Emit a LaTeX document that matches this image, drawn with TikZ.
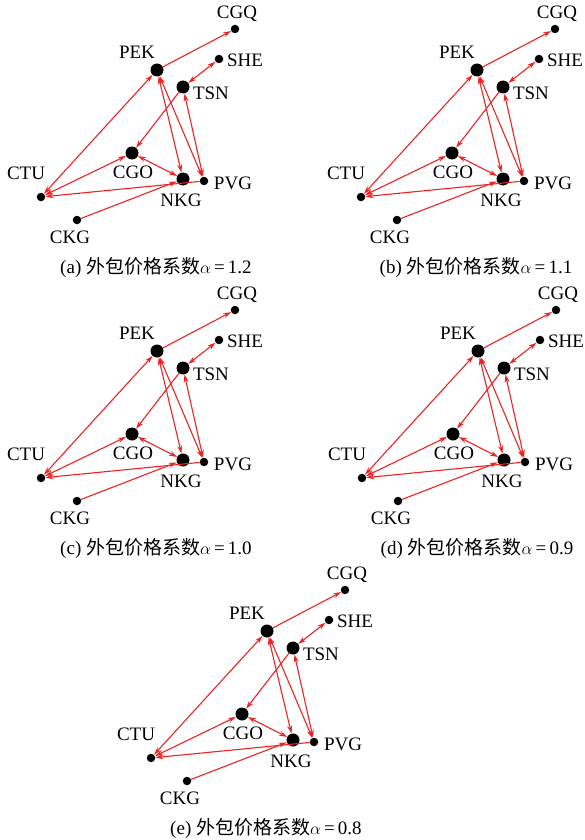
\documentclass[tikz,border=0pt]{standalone}
\usepackage{fontspec}
\setmainfont{Liberation Serif}
\newfontfamily\cjk{Noto Sans CJK SC}
\usetikzlibrary{arrows.meta}
\definecolor{edgered}{RGB}{235,35,35}
\tikzset{
 bigdot/.style={circle,fill=black,inner sep=0pt,minimum size=13pt},
 smalldot/.style={circle,fill=black,inner sep=0pt,minimum size=8.5pt},
 lab/.style={font=\fontsize{19}{19}\selectfont,inner sep=0pt},
 caplab/.style={font=\fontsize{19}{19}\selectfont,inner sep=0pt},
 link/.style={draw=edgered,line width=1.1pt},
 bi/.style={link,{Stealth[length=8pt,width=5pt]}-{Stealth[length=8pt,width=5pt]}},
 uni/.style={link,-{Stealth[length=8pt,width=5pt]}},
}
\begin{document}
\begin{tikzpicture}[x=1pt,y=-1pt]
\useasboundingbox (0,0) rectangle (584,840);
\foreach \p/\dx/\dy/\v in {a/0/0/1.2, b/320/0/1.1, c/0/281/1.0, d/321/281/0.9, e/110/561/0.8}{
 \begin{scope}[shift={(\dx,\dy)}]
  \node[smalldot] (\p-CGQ) at (235,29) {};
  \node[smalldot] (\p-SHE) at (219,59) {};
  \node[bigdot] (\p-PEK) at (157,70) {};
  \node[bigdot] (\p-TSN) at (183,87) {};
  \node[bigdot] (\p-CGO) at (132,153) {};
  \node[bigdot] (\p-NKG) at (183,179) {};
  \node[smalldot] (\p-PVG) at (204,181) {};
  \node[smalldot] (\p-CTU) at (41,197) {};
  \node[smalldot] (\p-CKG) at (77,220) {};
  \node[lab] (\p-lCGQ) at (237,14) {CGQ};
  \node[lab] (\p-lSHE) at (245,60) {SHE};
  \node[lab] (\p-lPEK) at (137,52) {PEK};
  \node[lab] (\p-lTSN) at (211,93) {TSN};
  \node[lab] (\p-lCGO) at (133,172) {CGO};
  \node[lab] (\p-lNKG) at (181,200) {NKG};
  \node[lab] (\p-lPVG) at (233,183) {PVG};
  \node[lab] (\p-lCTU) at (26,173) {CTU};
  \node[lab] (\p-lCKG) at (70,237) {CKG};
  \node[caplab] (\p-cap) at (156,267) {(\p) {\cjk 外包价格系数}$\alpha$\,=\,\v};
  \draw[uni] (\p-PEK) -- (\p-CGQ);
  \draw[bi] (\p-TSN) -- (\p-SHE);
  \draw[bi] (\p-PEK) -- (\p-CTU);
  \draw[uni] (\p-TSN) -- (\p-CGO);
  \draw[bi] (\p-PEK) -- (\p-NKG);
  \draw[bi] (\p-PEK) -- (\p-PVG);
  \draw[bi] (\p-TSN) -- (\p-PVG);
  \draw[bi] (\p-CGO) -- (\p-NKG);
  \draw[bi] (\p-CTU) -- (\p-CGO);
  \draw[uni] (\p-PVG) -- (\p-CTU);
  \draw[uni] (\p-CKG) -- (\p-NKG);
 \end{scope}
}
\end{tikzpicture}
\end{document}
